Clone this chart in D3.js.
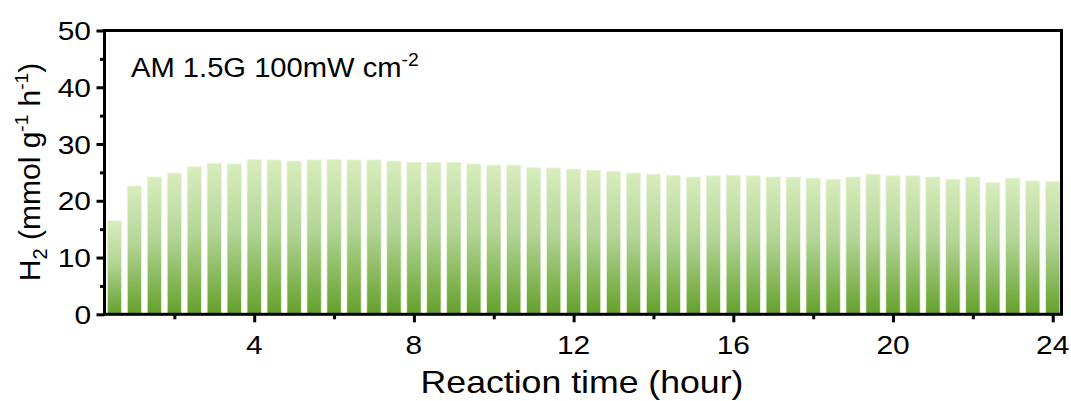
<!DOCTYPE html>
<html>
<head>
<meta charset="utf-8">
<script src="https://cdn.jsdelivr.net/npm/d3@7"></script>
<style>
  html, body { margin: 0; padding: 0; background: #fff; }
  svg { display: block; font-family: "Liberation Sans", Arial, sans-serif; }
</style>
</head>
<body>
<svg id="chart" width="1071" height="401"></svg>
<script>
// Reaction time (hour) for each half-hour sample
const hours = [0.5, 1, 1.5, 2, 2.5, 3, 3.5, 4, 4.5, 5, 5.5, 6,
               6.5, 7, 7.5, 8, 8.5, 9, 9.5, 10, 10.5, 11, 11.5, 12,
               12.5, 13, 13.5, 14, 14.5, 15, 15.5, 16, 16.5, 17, 17.5, 18,
               18.5, 19, 19.5, 20, 20.5, 21, 21.5, 22, 22.5, 23, 23.5, 24];
// H2 evolution rate (mmol g^-1 h^-1)
const h2Rate = [16.5, 22.6, 24.2, 24.9, 26.0, 26.6, 26.5, 27.3, 27.2, 27.0, 27.2, 27.3,
                27.2, 27.2, 27.0, 26.8, 26.8, 26.8, 26.5, 26.3, 26.3, 25.9, 25.8, 25.6,
                25.4, 25.2, 24.9, 24.7, 24.5, 24.2, 24.4, 24.5, 24.4, 24.2, 24.2, 24.0,
                23.8, 24.2, 24.7, 24.4, 24.4, 24.2, 23.8, 24.2, 23.2, 24.0, 23.5, 23.4];
const xMajorTicks = [4, 8, 12, 16, 20, 24];
const xMinorTicks = [2, 6, 10, 14, 18, 22];
const yMajorTicks = [0, 10, 20, 30, 40, 50];
const yMinorTicks = [5, 15, 25, 35, 45];

const svg = d3.select("#chart");
const plotL = 104.5, plotR = 1061.5, plotT = 30.5, plotB = 314.3;
const x = d3.scaleLinear().domain([0.25, 24.22]).range([plotL, plotR]);
const y = d3.scaleLinear().domain([0, 50]).range([plotB, plotT]);
const barW = x(0.36) - x(0);
const stretch = 1.15; // wide glyph rendering used for horizontal text

// vertical gradient for each bar
const defs = svg.append("defs");
const grad = defs.append("linearGradient")
  .attr("id", "barGrad").attr("x1", 0).attr("y1", 0).attr("x2", 0).attr("y2", 1);
grad.append("stop").attr("offset", "0%").attr("stop-color", "#d8edbd");
grad.append("stop").attr("offset", "45%").attr("stop-color", "#b4d597");
grad.append("stop").attr("offset", "100%").attr("stop-color", "#64a02b");

svg.append("g").selectAll("rect")
  .data(hours.map((h, i) => ({ h, v: h2Rate[i] })))
  .join("rect")
  .attr("x", d => x(d.h) - barW / 2)
  .attr("y", d => y(d.v))
  .attr("width", barW)
  .attr("height", d => y(0) - y(d.v))
  .attr("fill", "url(#barGrad)")
  .attr("stroke", "#edf6e2")
  .attr("stroke-width", 0.8);

// axes
const axisStyle = g => {
  g.select(".domain").remove();
  g.selectAll(".tick line").attr("stroke", "#000").attr("stroke-width", 3);
};

svg.append("g").attr("transform", `translate(0,${plotB})`)
  .call(d3.axisBottom(x).tickValues(xMajorTicks).tickSize(8).tickFormat(""))
  .call(axisStyle);
svg.append("g").attr("transform", `translate(0,${plotB})`)
  .call(d3.axisBottom(x).tickValues(xMinorTicks).tickSize(5).tickFormat(""))
  .call(axisStyle);
svg.append("g").attr("transform", `translate(${plotL},0)`)
  .call(d3.axisLeft(y).tickValues(yMajorTicks).tickSize(8).tickFormat(""))
  .call(axisStyle);
svg.append("g").attr("transform", `translate(${plotL},0)`)
  .call(d3.axisLeft(y).tickValues(yMinorTicks).tickSize(4.5).tickFormat(""))
  .call(axisStyle);

// frame
svg.append("rect")
  .attr("x", plotL).attr("y", plotT)
  .attr("width", plotR - plotL).attr("height", plotB - plotT)
  .attr("fill", "none").attr("stroke", "#000").attr("stroke-width", 3);

// tick labels
function wideText(px, py, anchor, size, str) {
  return svg.append("text")
    .attr("transform", `translate(${px},${py}) scale(${stretch},1)`)
    .attr("text-anchor", anchor)
    .attr("font-size", size)
    .attr("fill", "#000")
    .text(str);
}
xMajorTicks.forEach(t => wideText(x(t), 354, "middle", 26, String(t)));
yMajorTicks.forEach(t => wideText(91, y(t) + 9.5, "end", 26, String(t)));

// x axis title
wideText(582, 393, "middle", 31, "Reaction time (hour)");

// y axis title
const yt = svg.append("text")
  .attr("transform", "translate(40,172) rotate(-90)")
  .attr("text-anchor", "middle")
  .attr("font-size", 30)
  .attr("fill", "#000");
yt.append("tspan").text("H");
yt.append("tspan").attr("font-size", 20).attr("dy", 7).text("2");
yt.append("tspan").attr("dy", -7).text(" (mmol g");
yt.append("tspan").attr("font-size", 19).attr("dy", -12).text("-1");
yt.append("tspan").attr("dy", 12).text(" h");
yt.append("tspan").attr("font-size", 19).attr("dy", -12).text("-1");
yt.append("tspan").attr("dy", 12).text(")");

// illumination condition
const ann = svg.append("text")
  .attr("transform", "translate(131,77) scale(1.08,1)")
  .attr("font-size", 27)
  .attr("fill", "#000");
ann.append("tspan").text("AM 1.5G 100mW cm");
ann.append("tspan").attr("font-size", 18).attr("dy", -11).text("-2");
</script>
</body>
</html>
